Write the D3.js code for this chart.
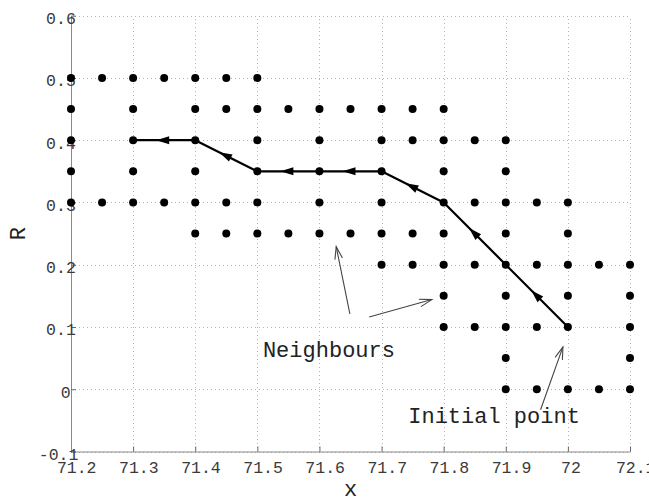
<!DOCTYPE html>
<html>
<head>
<meta charset="utf-8">
<script src="https://cdn.jsdelivr.net/npm/d3@7"></script>
<style>
  html, body { margin: 0; padding: 0; background: #fff; }
  svg { display: block; }
  text { font-family: "Liberation Mono", "Courier New", monospace; }
</style>
</head>
<body>
<svg id="chart" width="649" height="500"></svg>
<script>
// ---- data ----
const xTicks = [71.2, 71.3, 71.4, 71.5, 71.6, 71.7, 71.8, 71.9, 72.0, 72.1];
const xTickLabels = ["71.2", "71.3", "71.4", "71.5", "71.6", "71.7", "71.8", "71.9", "72", "72.1"];
const yTicks = [-0.1, 0, 0.1, 0.2, 0.3, 0.4, 0.5, 0.6];
const yTickLabels = ["-0.1", "0", "0.1", "0.2", "0.3", "0.4", "0.5", "0.6"];

// neighbour grid points: each row is one R value and its x values
const neighbourRows = [
  { r: 0.50, xs: [71.2, 71.25, 71.3, 71.35, 71.4, 71.45, 71.5] },
  { r: 0.45, xs: [71.2, 71.3, 71.4, 71.45, 71.5, 71.55, 71.6, 71.65, 71.7, 71.75, 71.8] },
  { r: 0.40, xs: [71.2, 71.3, 71.4, 71.5, 71.6, 71.7, 71.75, 71.8, 71.85, 71.9] },
  { r: 0.35, xs: [71.2, 71.3, 71.4, 71.5, 71.6, 71.7, 71.8, 71.9] },
  { r: 0.30, xs: [71.2, 71.25, 71.3, 71.35, 71.4, 71.45, 71.5, 71.6, 71.7, 71.8, 71.85, 71.9, 71.95, 72.0] },
  { r: 0.25, xs: [71.4, 71.45, 71.5, 71.55, 71.6, 71.65, 71.7, 71.75, 71.8, 71.9, 72.0] },
  { r: 0.20, xs: [71.7, 71.75, 71.8, 71.85, 71.9, 71.95, 72.0, 72.05, 72.1] },
  { r: 0.15, xs: [71.8, 71.9, 72.0, 72.1] },
  { r: 0.10, xs: [71.8, 71.85, 71.9, 71.95, 72.0, 72.1] },
  { r: 0.05, xs: [71.9, 72.1] },
  { r: 0.00, xs: [71.9, 71.95, 72.0, 72.05, 72.1] }
];

// search path, from the initial point
const pathX = [72.0, 71.9, 71.8, 71.7, 71.6, 71.5, 71.4, 71.3];
const pathR = [0.10, 0.20, 0.30, 0.35, 0.35, 0.35, 0.40, 0.40];

// annotations (data coordinates)
const annotationTexts = [
  { text: "Neighbours", x: 71.509, r: 0.051 },
  { text: "Initial point", x: 71.743, r: -0.054 }
];
const annotationArrows = [
  { x1: 71.649, r1: 0.121, x2: 71.627, r2: 0.229 },
  { x1: 71.680, r1: 0.116, x2: 71.781, r2: 0.144 },
  { x1: 71.956, r1: -0.033, x2: 71.992, r2: 0.068 }
];

// ---- drawing ----
const svg = d3.select("#chart");
const plotL = 71, plotR = 630, plotT = 15.7, plotB = 451.5;

const x = d3.scaleLinear().domain([71.2, 72.1]).range([plotL, plotR]);
const y = d3.scaleLinear().domain([-0.1, 0.6]).range([plotB, plotT]);

// grid
const gridColor = "#b4b4b4";
svg.append("g")
  .attr("transform", `translate(0,${plotB})`)
  .call(d3.axisBottom(x).tickValues(xTicks).tickSize(-(plotB - plotT)).tickFormat(""))
  .call(g => g.select(".domain").remove())
  .call(g => g.selectAll("line").attr("stroke", gridColor).attr("stroke-dasharray", "1,3").attr("shape-rendering", "crispEdges"));
svg.append("g")
  .attr("transform", `translate(${plotL},0)`)
  .call(d3.axisLeft(y).tickValues(yTicks).tickSize(-(plotR - plotL)).tickFormat(""))
  .call(g => g.select(".domain").remove())
  .call(g => g.selectAll("line").attr("stroke", gridColor).attr("stroke-dasharray", "1,3").attr("shape-rendering", "crispEdges"));

// axes
const axisColor = "#8a8a8a";
const charW = 7.3;
const xAxis = svg.append("g")
  .attr("transform", `translate(0,${plotB})`)
  .call(d3.axisBottom(x).tickValues(xTicks).tickSize(-5).tickSizeOuter(0)
    .tickFormat((d, i) => xTickLabels[i]));
xAxis.select(".domain").attr("stroke", axisColor);
xAxis.selectAll("line").attr("stroke", "#666");
xAxis.selectAll("text")
  .attr("fill", "#3a3a3a").attr("font-size", "16.5px")
  .attr("text-anchor", "start")
  .attr("dy", null).attr("y", 21.5)
  .attr("x", function (d, i) { return -xTickLabels[i].length * charW / 2; });

const yAxis = svg.append("g")
  .attr("transform", `translate(${plotL},0)`)
  .call(d3.axisLeft(y).tickValues(yTicks).tickSize(-5).tickSizeOuter(0)
    .tickFormat((d, i) => yTickLabels[i]));
yAxis.select(".domain").attr("stroke", axisColor);
yAxis.selectAll("line").attr("stroke", "#666");
yAxis.selectAll("text")
  .attr("fill", "#3a3a3a").attr("font-size", "16.5px")
  .attr("text-anchor", "start")
  .attr("dy", null).attr("y", 8)
  .attr("x", function (d, i) { return -3 - yTickLabels[i].length * charW; });

// axis titles
svg.append("text").attr("x", (plotL + plotR) / 2).attr("y", 496)
  .attr("text-anchor", "middle").attr("font-size", "22px").attr("fill", "#222").text("x");
svg.append("text").attr("transform", `translate(25,${(plotT + plotB) / 2}) rotate(-90)`)
  .attr("text-anchor", "middle").attr("font-size", "22px").attr("fill", "#222").text("R");

// neighbour dots
const pts = neighbourRows.flatMap(row => row.xs.map(v => ({ x: v, r: row.r })));
svg.append("g").selectAll("circle").data(pts).join("circle")
  .attr("cx", d => x(d.x)).attr("cy", d => y(d.r)).attr("r", 4).attr("fill", "#000");

// path
const pathPts = pathX.map((v, i) => [x(v), y(pathR[i])]);
svg.append("path").attr("d", d3.line()(pathPts))
  .attr("fill", "none").attr("stroke", "#000").attr("stroke-width", 2.2).attr("stroke-linejoin", "round");

// arrowheads on each segment
const heads = [];
for (let i = 0; i < pathPts.length - 1; i++) {
  const [ax, ay] = pathPts[i], [bx, by] = pathPts[i + 1];
  const len = Math.hypot(bx - ax, by - ay);
  const ux = (bx - ax) / len, uy = (by - ay) / len;
  const mx = (ax + bx) / 2, my = (ay + by) / 2;
  const tx = mx + 8 * ux, ty = my + 8 * uy;
  const bxx = tx - 13 * ux, byy = ty - 13 * uy;
  const px = -uy, py = ux;
  heads.push([[tx, ty], [bxx + 4 * px, byy + 4 * py], [bxx - 4 * px, byy - 4 * py]]);
}
svg.append("g").selectAll("path").data(heads).join("path")
  .attr("d", d => "M" + d.map(p => p.join(",")).join("L") + "Z")
  .attr("fill", "#000");

// annotation arrows
const annG = svg.append("g").attr("stroke", "#444").attr("stroke-width", 1.1).attr("fill", "none");
annotationArrows.forEach(a => {
  const x1 = x(a.x1), y1 = y(a.r1), x2 = x(a.x2), y2 = y(a.r2);
  const ang = Math.atan2(y2 - y1, x2 - x1);
  const L = 13, spread = 0.3;
  annG.append("line").attr("x1", x1).attr("y1", y1).attr("x2", x2).attr("y2", y2);
  annG.append("path").attr("d",
    `M${x2 - L * Math.cos(ang - spread)},${y2 - L * Math.sin(ang - spread)}L${x2},${y2}L${x2 - L * Math.cos(ang + spread)},${y2 - L * Math.sin(ang + spread)}`);
});

svg.append("g").selectAll("text").data(annotationTexts).join("text")
  .attr("x", d => x(d.x)).attr("y", d => y(d.r))
  .attr("font-size", "22px").attr("fill", "#222")
  .text(d => d.text);
</script>
</body>
</html>
